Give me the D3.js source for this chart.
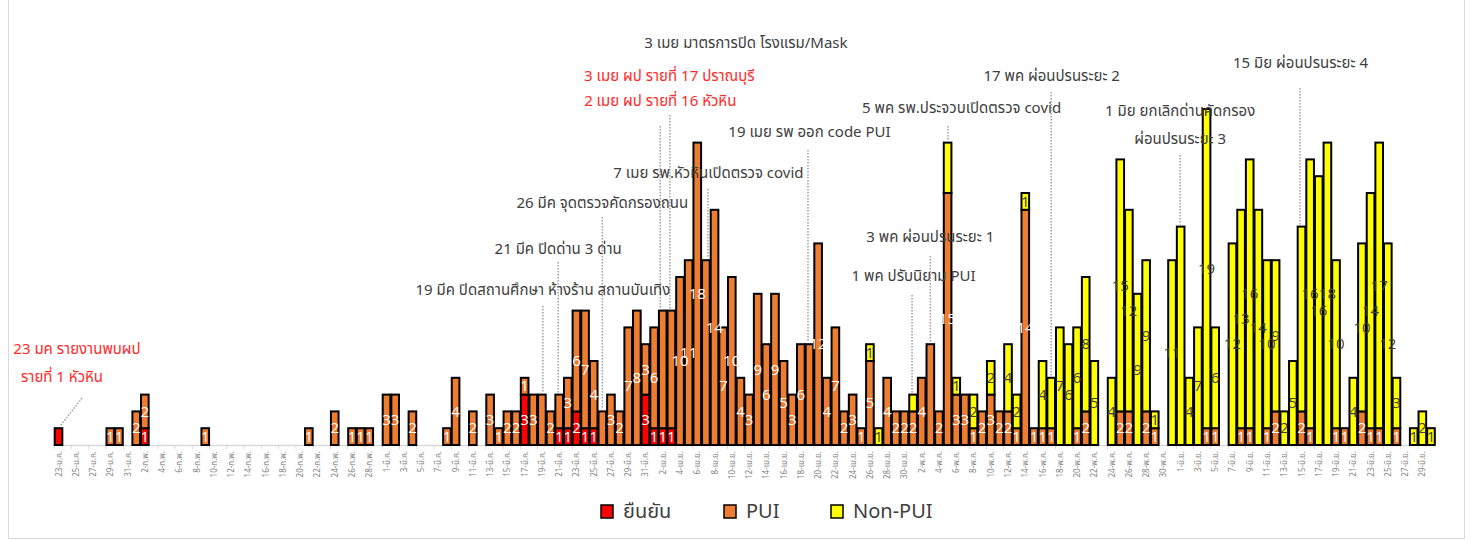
<!DOCTYPE html>
<html>
<head>
<meta charset="utf-8">
<script src="https://cdn.jsdelivr.net/npm/d3@7/dist/d3.min.js"></script>
<style>
  body { margin: 0; background: #fff; }
  svg { display: block; font-family: "Noto Sans Thai", Tahoma, "Noto Sans", sans-serif; }
</style>
</head>
<body>
<div id="viz"></div>
<script>
const width = 1472;
const height = 540;

// categories: one bar per day starting 23 Jan 2020
const startDate = new Date(2020, 0, 23);
const dayCount = 160;
const monthAbbr = ["ม.ค.", "ก.พ.", "มี.ค.", "เม.ย.", "พ.ค.", "มิ.ย."];

// series values, one per day (rows of 10 days)
const confirmed = [
  1, 0, 0, 0, 0, 0, 0, 0, 0, 0,
  1, 0, 0, 0, 0, 0, 0, 0, 0, 0,
  0, 0, 0, 0, 0, 0, 0, 0, 0, 0,
  0, 0, 0, 0, 0, 0, 0, 0, 0, 0,
  0, 0, 0, 0, 0, 0, 0, 0, 0, 0,
  0, 0, 0, 0, 3, 0, 0, 0, 1, 1,
  2, 1, 1, 0, 0, 0, 0, 0, 3, 1,
  1, 1, 0, 0, 0, 0, 0, 0, 0, 0,
  0, 0, 0, 0, 0, 0, 0, 0, 0, 0,
  0, 0, 0, 0, 0, 0, 0, 0, 0, 0,
  0, 0, 0, 0, 0, 0, 0, 0, 0, 0,
  0, 0, 0, 0, 0, 0, 0, 0, 0, 0,
  0, 0, 0, 0, 0, 0, 0, 0, 0, 0,
  0, 0, 0, 0, 0, 0, 0, 0, 0, 0,
  0, 0, 0, 0, 0, 0, 0, 0, 0, 0,
  0, 0, 0, 0, 0, 0, 0, 0, 0, 0
];
const pui = [
  0, 0, 0, 0, 0, 0, 1, 1, 0, 2,
  2, 0, 0, 0, 0, 0, 0, 1, 0, 0,
  0, 0, 0, 0, 0, 0, 0, 0, 0, 1,
  0, 0, 2, 0, 1, 1, 1, 0, 3, 3,
  0, 2, 0, 0, 0, 1, 4, 0, 2, 0,
  3, 1, 2, 2, 1, 3, 3, 2, 2, 3,
  6, 7, 4, 2, 3, 2, 7, 8, 3, 6,
  7, 7, 10, 11, 18, 11, 14, 7, 10, 4,
  3, 9, 6, 9, 5, 3, 6, 6, 12, 4,
  7, 2, 3, 1, 5, 0, 4, 2, 2, 2,
  4, 6, 2, 15, 3, 3, 1, 2, 3, 2,
  2, 1, 14, 1, 1, 1, 0, 0, 1, 2,
  0, 0, 0, 2, 2, 0, 2, 1, 0, 0,
  0, 0, 0, 1, 1, 0, 0, 1, 1, 0,
  1, 2, 0, 0, 2, 1, 0, 0, 1, 1,
  0, 2, 1, 1, 0, 1, 0, 0, 0, 0
];
const nonPui = [
  0, 0, 0, 0, 0, 0, 0, 0, 0, 0,
  0, 0, 0, 0, 0, 0, 0, 0, 0, 0,
  0, 0, 0, 0, 0, 0, 0, 0, 0, 0,
  0, 0, 0, 0, 0, 0, 0, 0, 0, 0,
  0, 0, 0, 0, 0, 0, 0, 0, 0, 0,
  0, 0, 0, 0, 0, 0, 0, 0, 0, 0,
  0, 0, 0, 0, 0, 0, 0, 0, 0, 0,
  0, 0, 0, 0, 0, 0, 0, 0, 0, 0,
  0, 0, 0, 0, 0, 0, 0, 0, 0, 0,
  0, 0, 0, 0, 1, 1, 0, 0, 0, 1,
  0, 0, 0, 3, 1, 0, 2, 0, 2, 0,
  4, 2, 1, 0, 4, 3, 7, 6, 6, 8,
  5, 0, 4, 15, 12, 9, 9, 1, 0, 11,
  13, 4, 7, 19, 6, 0, 12, 13, 16, 14,
  10, 9, 2, 5, 11, 16, 16, 18, 10, 0,
  4, 10, 14, 17, 12, 3, 0, 1, 2, 1
];

const seriesKeys = ["confirmed", "pui", "nonPui"];
const seriesNames = ["ยืนยัน", "PUI", "Non-PUI"];
const seriesColors = ["#ff0000", "#ed7d31", "#ffff00"];
const labelColors = ["#ffffff", "#ffffff", "#404040"];

// event notes (day index from 23 Jan), the top label of that bar is replaced by the note
const noteDays = [0, 56, 58, 63, 70, 71, 75, 87, 99, 101, 103, 115, 130, 144];
const noteTexts = [
  ["23 มค รายงานพบผป", "รายที่ 1 หัวหิน"],
  ["19 มีค ปิดสถานศึกษา ห้างร้าน สถานบันเทิง"],
  ["21 มีค ปิดด่าน 3 ด่าน"],
  ["26 มีค จุดตรวจคัดกรองถนน"],
  ["2 เมย ผป รายที่ 16 หัวหิน"],
  ["3 เมย ผป รายที่ 17 ปราณบุรี", "3 เมย มาตรการปิด โรงแรม/Mask"],
  ["7 เมย รพ.หัวหินเปิดตรวจ covid"],
  ["19 เมย รพ ออก code PUI"],
  ["1 พค ปรับนิยาม PUI"],
  ["3 พค ผ่อนปรนระยะ 1"],
  ["5 พค รพ.ประจวบเปิดตรวจ covid"],
  ["17 พค ผ่อนปรนระยะ 2"],
  ["1 มิย ยกเลิกด่านคัดกรอง", "ผ่อนปรนระยะ 3"],
  ["15 มิย ผ่อนปรนระยะ 4"]
];
// which note lines are about reported cases (shown in red)
const noteRed = [[true, true], [false], [false], [false], [true], [true, false], [false],
  [false], [false], [false], [false], [false], [false, false], [false]];

// where each note label was dragged to: per line [dx from bar, y], plus leader top
const noteLayout = [
  { lines: [[18.5, 349], [3.5, 377]], lx: 23.5, ly: 398, bx: 1.5 },
  { lines: [[1, 290]], lx: 1, ly: 306 },
  { lines: [[-1, 249]], lx: -1, ly: 262 },
  { lines: [[0, 203]], lx: 0, ly: 217 },
  { lines: [[-2.5, 101]], lx: -2.5, ly: 126 },
  { lines: [[-2, 76], [74.5, 43]], lx: -1.5, ly: 115 },
  { lines: [[2.5, 173]], lx: 2, ly: 189 },
  { lines: [[0, 132]], lx: -1.5, ly: 150 },
  { lines: [[0.5, 276]], lx: -1, ly: 295 },
  { lines: [[0, 237]], lx: 0, ly: 256 },
  { lines: [[14, 108]], lx: 0.5, ly: 126 },
  { lines: [[0.5, 76]], lx: 0, ly: 92 },
  { lines: [[-0.5, 111], [-0.5, 139]], lx: -0.5, ly: 155 },
  { lines: [[-1, 63]], lx: -1.5, ly: 88 }
];

const days = d3.range(dayCount).map(i => d3.timeDay.offset(startDate, i));
const rows = days.map((date, i) => ({
  i, date,
  confirmed: confirmed[i], pui: pui[i], nonPui: nonPui[i]
}));

const svg = d3.select("#viz")
  .append("svg")
  .attr("width", width)
  .attr("height", height);

// chart frame
svg.append("rect")
  .attr("x", 8.5).attr("y", -4)
  .attr("width", 1456).attr("height", 542.5)
  .attr("fill", "none")
  .attr("stroke", "#d9d9d9");

const xScale = d3.scaleBand()
  .domain(d3.range(dayCount))
  .range([54.2, 1435.3])
  .padding(0);

const yScale = d3.scaleLinear()
  .domain([0, 20])
  .range([445, 109]);

const stack = d3.stack().keys(seriesKeys);
const stacked = stack(rows);

// top segment for each day (its label gets replaced by a note)
const topKey = rows.map(r => {
  let k = null;
  seriesKeys.forEach(s => { if (r[s] > 0) k = s; });
  return k;
});

// x axis
const axisY = yScale(0);
svg.append("line")
  .attr("x1", xScale.range()[0]).attr("x2", xScale.range()[1])
  .attr("y1", axisY + 0.5).attr("y2", axisY + 0.5)
  .attr("stroke", "#d9d9d9").attr("stroke-width", 1.5);

const tickDays = d3.range(0, dayCount, 2);
svg.append("g")
  .selectAll("line")
  .data(tickDays)
  .join("line")
  .attr("x1", d => xScale(d)).attr("x2", d => xScale(d))
  .attr("y1", axisY).attr("y2", axisY + 4)
  .attr("stroke", "#d9d9d9");

svg.append("g")
  .selectAll("text")
  .data(tickDays)
  .join("text")
  .attr("transform", d => `translate(${xScale(d) + xScale.bandwidth() / 2 + 3}, ${axisY + 6}) rotate(-90)`)
  .attr("text-anchor", "end")
  .attr("font-size", 8)
  .attr("fill", "#7f7f7f")
  .text(d => `${days[d].getDate()}-${monthAbbr[days[d].getMonth()]}`);

// leaders (under the bars' tops)
const leaders = svg.append("g");
noteDays.forEach((day, n) => {
  const lay = noteLayout[n];
  const cx = xScale(day) + xScale.bandwidth() / 2;
  const total = rows[day].confirmed + rows[day].pui + rows[day].nonPui;
  leaders.append("line")
    .attr("x1", cx + lay.lx).attr("y1", lay.ly)
    .attr("x2", cx + (lay.bx !== undefined ? lay.bx : lay.lx)).attr("y2", yScale(total) - 2)
    .attr("stroke", "#a0a0a0")
    .attr("stroke-width", 1.5)
    .attr("stroke-dasharray", "1.5,1.5");
});

// bars
const layers = svg.append("g")
  .selectAll("g")
  .data(stacked)
  .join("g")
  .attr("fill", (d, i) => seriesColors[i]);

layers.selectAll("rect")
  .data(d => d.filter(s => s[1] - s[0] > 0))
  .join("rect")
  .attr("x", d => xScale(d.data.i) + 0.5)
  .attr("y", d => yScale(d[1]))
  .attr("width", xScale.bandwidth() - 1)
  .attr("height", d => yScale(d[0]) - yScale(d[1]))
  .attr("stroke", "#000")
  .attr("stroke-width", 2);

// value labels
const noteSet = new Set(noteDays);
stacked.forEach((layer, si) => {
  svg.append("g")
    .selectAll("text")
    .data(layer.filter(s => s[1] - s[0] > 0 && !(noteSet.has(s.data.i) && topKey[s.data.i] === layer.key)))
    .join("text")
    .attr("x", d => xScale(d.data.i) + xScale.bandwidth() / 2)
    .attr("y", d => yScale((d[0] + d[1]) / 2))
    .attr("dy", "0.35em")
    .attr("text-anchor", "middle")
    .attr("font-family", "'Open Sans', sans-serif")
    .attr("font-size", 15)
    .attr("fill", labelColors[si])
    .text(d => d[1] - d[0]);
});

// notes
noteDays.forEach((day, n) => {
  const cx = xScale(day) + xScale.bandwidth() / 2;
  noteLayout[n].lines.forEach((ln, k) => {
    svg.append("text")
      .attr("x", cx + ln[0])
      .attr("y", ln[1])
      .attr("dy", "0.35em")
      .attr("text-anchor", "middle")
      .attr("font-size", 15)
      .attr("fill", noteRed[n][k] ? "#ff2a2a" : "#404040")
      .text(noteTexts[n][k]);
  });
});

// legend
const legendX = [601, 724, 831];
const legend = svg.append("g");
seriesNames.forEach((name, i) => {
  legend.append("rect")
    .attr("x", legendX[i]).attr("y", 505)
    .attr("width", 12).attr("height", 13)
    .attr("fill", seriesColors[i])
    .attr("stroke", "#000").attr("stroke-width", 1.5);
  legend.append("text")
    .attr("x", legendX[i] + 22).attr("y", 511)
    .attr("dy", "0.35em")
    .attr("font-size", 20)
    .attr("fill", "#404040")
    .text(name);
});
</script>
</body>
</html>
